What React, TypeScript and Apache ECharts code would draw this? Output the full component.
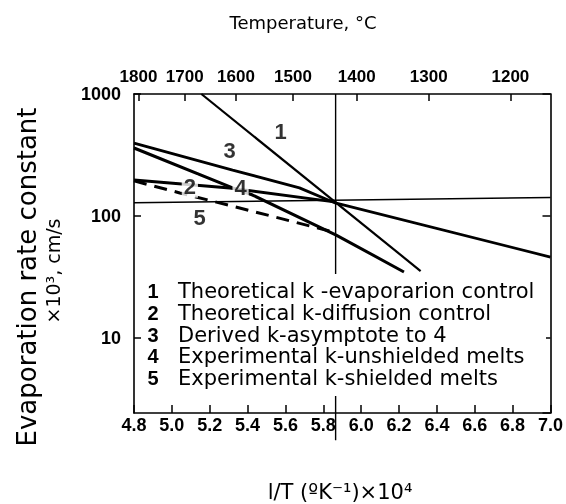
import React, { useEffect, useRef } from 'react';
import * as echarts from 'echarts';

// ---- axes ----
const xMin = 4.8;
const xMax = 7.0;
const xInterval = 0.2;
const yMin = 2.43;
const yMax = 1000;
const yLabelValues = [10, 100, 1000];
const tempTicksC = [1800, 1700, 1600, 1500, 1400, 1300, 1200];

// ---- curves (x = 1/T x 10^4, y = k x 10^3 cm/s) ----
const line1X = [5.156, 6.314];
const line1Y = [1000, 35.4];
const line2X = [4.8, 5.305, 5.868];
const line2Y = [197, 170, 130];
const line3X = [4.8, 5.321, 5.674, 5.863, 7.0];
const line3Y = [396, 238, 170, 128, 46.1];
const line4X = [4.8, 5.321, 5.426, 5.868, 6.226];
const line4Y = [361, 170, 148.6, 69.8, 34.8];
const line5X = [4.8, 5.042, 5.358, 5.832];
const line5Y = [194, 154.6, 116.4, 75.4];
const refHX = [4.8, 7.0];
const refHY = [128.3, 141.9];
const refVX = [5.865, 5.865];
const refVY = [1000, 1.45];

// ---- curve number labels ----
const tagNames = ['1', '2', '3', '4', '5'];
const tagX = [5.575, 5.095, 5.305, 5.363, 5.147];
const tagY = [495, 174, 347, 170, 98];

// ---- legend ----
const legendNums = ['1', '2', '3', '4', '5'];
const legendTexts = [
  'Theoretical k -evaporarion control',
  'Theoretical k-diffusion control',
  'Derived k-asymptote to 4',
  'Experimental k-unshielded melts',
  'Experimental k-shielded melts',
];

const TICKFONT = "'Liberation Sans', Arial, sans-serif";
const SANS = "'DejaVu Sans', 'Liberation Sans', sans-serif";

const zip = (xs: number[], ys: number[]) => xs.map((x, i) => [x, ys[i]]);

export default function App() {
  const ref = useRef<HTMLDivElement>(null);
  useEffect(() => {
    if (!ref.current) return;
    const chart = echarts.init(ref.current, undefined, { renderer: 'svg' });
    const tempPos = tempTicksC.map((t) => 1e4 / (t + 273.15));
    const lineSeries = (data: number[][], width: number, type: any = 'solid', extra: any = {}) => ({
      type: 'line',
      data,
      symbol: 'none',
      silent: true,
      lineStyle: { color: '#000', width, type },
      z: 3,
      ...extra,
    });
    const legendGraphics: any[] = [
      {
        type: 'rect',
        shape: { x: 142, y: 274, width: 404, height: 122 },
        style: { fill: '#fff' },
        z: 100,
      },
    ];
    legendNums.forEach((n, i) => {
      const y = 291 + i * 21.8;
      legendGraphics.push({
        type: 'text',
        x: 153,
        y,
        z: 101,
        style: { text: n, fontFamily: TICKFONT, fontWeight: 'bold', fontSize: 20, fill: '#000', align: 'center', verticalAlign: 'middle' },
      });
      legendGraphics.push({
        type: 'text',
        x: 178,
        y,
        z: 101,
        style: { text: legendTexts[i], fontFamily: SANS, fontSize: 21, lineHeight: 21, fill: '#000', align: 'left', verticalAlign: 'middle' },
      });
    });

    const option: any = {
      animation: false,
      grid: { left: 134, right: 14, top: 94, bottom: 91, containLabel: false },
      xAxis: [
        {
          type: 'value',
          position: 'bottom',
          min: xMin,
          max: xMax,
          interval: xInterval,
          axisLine: { show: true, lineStyle: { color: '#000', width: 1.6 } },
          axisTick: { show: true, inside: true, length: 8, lineStyle: { color: '#000', width: 1.5 } },
          axisLabel: {
            show: true,
            margin: 3,
            color: '#000',
            fontFamily: TICKFONT,
            fontWeight: 'bold',
            fontSize: 18,
            showMinLabel: true,
            showMaxLabel: true,
            formatter: (v: number) => v.toFixed(1),
          },
          splitLine: { show: false },
        },
        {
          type: 'value',
          position: 'top',
          min: xMin,
          max: xMax,
          axisLine: { show: true, lineStyle: { color: '#000', width: 1.6 } },
          axisTick: { show: true, inside: true, length: 7, customValues: tempPos, lineStyle: { color: '#000', width: 1.5 } },
          axisLabel: {
            show: true,
            margin: 9,
            color: '#000',
            fontFamily: TICKFONT,
            fontWeight: 'bold',
            fontSize: 17,
            showMinLabel: true,
            showMaxLabel: true,
            hideOverlap: false,
            customValues: tempPos,
            formatter: (v: number) => {
              let best = 0;
              tempPos.forEach((p, i) => {
                if (Math.abs(p - v) < Math.abs(tempPos[best] - v)) best = i;
              });
              return String(tempTicksC[best]);
            },
          },
          splitLine: { show: false },
        },
      ],
      yAxis: [
        {
          type: 'log',
          logBase: 10,
          position: 'left',
          min: yMin,
          max: yMax,
          axisLine: { show: true, lineStyle: { color: '#000', width: 1.6 } },
          axisTick: { show: true, inside: true, length: 7, lineStyle: { color: '#000', width: 1.5 } },
          axisLabel: {
            show: true,
            margin: 13,
            color: '#000',
            fontFamily: TICKFONT,
            fontWeight: 'bold',
            fontSize: 18,
            showMinLabel: false,
            formatter: (v: number) => {
              const hit = yLabelValues.find((t) => Math.abs(t - v) / t < 1e-6);
              return hit ? String(hit) : '';
            },
          },
          splitLine: { show: false },
          minorTick: { show: false },
        },
        {
          type: 'log',
          logBase: 10,
          position: 'right',
          min: yMin,
          max: yMax,
          axisLine: { show: true, lineStyle: { color: '#000', width: 1.6 } },
          axisTick: { show: true, inside: true, length: 8, lineStyle: { color: '#000', width: 1.5 } },
          axisLabel: { show: false },
          splitLine: { show: false },
        },
      ],
      series: [
        lineSeries(zip(refHX, refHY), 1.4),
        lineSeries(zip(refVX, refVY), 1.4, 'solid', { clip: false }),
        lineSeries(zip(line1X, line1Y), 2.2),
        lineSeries(zip(line2X, line2Y), 3),
        lineSeries(zip(line3X, line3Y), 2.8),
        lineSeries(zip(line4X, line4Y), 3),
        lineSeries(zip(line5X, line5Y), 3, [13, 8]),
        {
          type: 'scatter',
          symbolSize: 1,
          silent: true,
          z: 6,
          itemStyle: { color: '#fff' },
          data: tagNames.map((n, i) => ({ name: n, value: [tagX[i], tagY[i]] })),
          label: {
            show: true,
            position: 'inside',
            formatter: (p: any) => p.name,
            fontFamily: TICKFONT,
            fontWeight: 'bold',
            fontSize: 22,
            color: '#000',
            backgroundColor: '#fff',
            padding: [0, 2],
          },
        },
      ],
      graphic: {
        elements: [
          {
            type: 'text',
            x: 303,
            y: 22,
            style: { text: 'Temperature, °C', fontFamily: SANS, fontSize: 18, fill: '#000', align: 'center', verticalAlign: 'middle' },
          },
          {
            type: 'text',
            x: 340,
            y: 492,
            style: { text: 'l/T (ºK⁻¹)×10⁴', fontFamily: SANS, fontSize: 21, fill: '#000', align: 'center', verticalAlign: 'middle' },
          },
          {
            type: 'text',
            x: 27,
            y: 277,
            rotation: Math.PI / 2,
            style: { text: 'Evaporation rate constant', fontFamily: SANS, fontSize: 26, fill: '#000', align: 'center', verticalAlign: 'middle' },
          },
          {
            type: 'text',
            x: 53,
            y: 271,
            rotation: Math.PI / 2,
            style: { text: '×10³, cm/s', fontFamily: SANS, fontSize: 19, fill: '#000', align: 'center', verticalAlign: 'middle' },
          },
          ...legendGraphics,
        ],
      },
    };
    chart.setOption(option);
    return () => chart.dispose();
  }, []);
  return <div ref={ref} style={{ position: 'fixed', left: 0, top: 0, width: 566, height: 504 }} />;
}
